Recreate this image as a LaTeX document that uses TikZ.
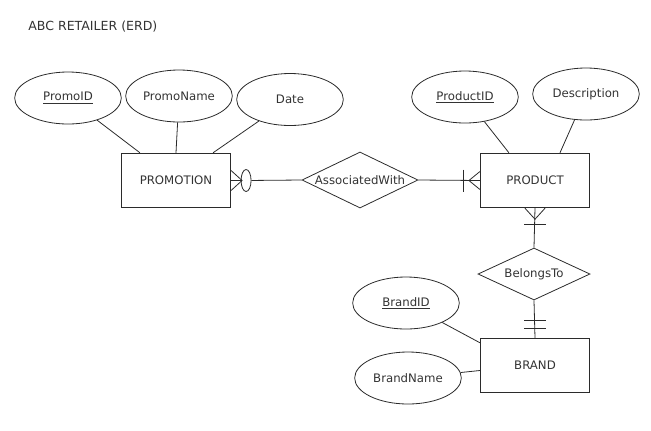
\documentclass[tikz,border=0pt]{standalone}
\usepackage{fontspec}
\setmainfont{DejaVu Sans}
\usepackage{tikz}
\usetikzlibrary{shapes.geometric, calc}
\definecolor{erdline}{HTML}{2B2B2B}
\definecolor{erdtext}{HTML}{333333}

\tikzset{
  erdfont/.style={font=\fontsize{8.8}{10}\selectfont, text=erdtext},
  entity/.style={draw=erdline, rectangle, minimum width=82pt, minimum height=41pt, erdfont},
  attr/.style={draw=erdline, ellipse, inner sep=0pt, minimum width=80pt, minimum height=39pt, erdfont},
  rel/.style={draw=erdline, diamond, inner sep=0pt, aspect=2.1, minimum width=87pt, minimum height=42pt, erdfont},
  optmark/.style={draw=erdline, ellipse, fill=white, inner sep=0pt, minimum width=7.5pt, minimum height=16.5pt},
  link/.style={draw=erdline}
}

\begin{document}
\begin{tikzpicture}[x=0.75pt, y=-0.75pt, line width=0.6pt]
    \useasboundingbox (0,0) rectangle (651,430);
    \node[erdfont, font=\fontsize{9.4}{11}\selectfont, anchor=west, inner sep=0pt] (title) at (28,27) {ABC RETAILER (ERD)};

    \node[entity] (promo) at (176,180.5) {PROMOTION};
    \node[entity] (product) at (535,180.5) {PRODUCT};
    \node[entity] (brand) at (535,365.5) {BRAND};

    \node[rel] (assoc) at (360,180) {AssociatedWith};
    \node[rel, minimum width=84pt, minimum height=39pt] (belongs) at (534,274) {BelongsTo};

    \node[attr] (promoid) at (68,98) {\underline{PromoID}};
    \node[attr] (promoname) at (179,96) {PromoName};
    \node[attr] (date) at (290,99.5) {Date};
    \node[attr] (productid) at (465,97) {\underline{ProductID}};
    \node[attr] (descr) at (586,94) {Description};
    \node[attr] (brandid) at (406,303) {\underline{BrandID}};
    \node[attr] (brandname) at (408,378) {BrandName};

    \draw[link] (promoid) -- ($(promo.north west)+(19,0)$);
    \draw[link] (promoname) -- (promo.north);
    \draw[link] (date) -- ($(promo.north east)+(-18,0)$);
    \draw[link] (productid) -- ($(product.north west)+(29,0)$);
    \draw[link] (descr) -- ($(product.north)+(25,0)$);
    \draw[link] (brandid) -- ($(brand.north west)+(0,5)$);
    \draw[link] (brandname) -- ($(brand.west)+(0,5)$);

    \node[optmark] (promoopt) at ($(promo.east)+(15,0)$) {};
    \draw[link] (promo.east) -- (promoopt);
    \draw[link] (promoopt) -- (assoc.west);
    \draw[link] ($(promo.east)+(0,-10)$) -- ($(promo.east)+(11,0)$) -- ($(promo.east)+(0,10)$);

    \draw[link] (assoc.east) -- (product.west);
    \draw[link] ($(product.west)+(0,-9)$) -- ($(product.west)+(-11,0)$) -- ($(product.west)+(0,9)$);
    \draw[link] ($(product.west)+(-17,-11)$) -- ($(product.west)+(-17,11)$);

    \draw[link] (product.south) -- (belongs.north);
    \draw[link] ($(product.south)+(-10,0)$) -- ($(product.south)+(0,11)$) -- ($(product.south)+(10,0)$);
    \draw[link] ($(product.south)+(-11,16)$) -- ($(product.south)+(11,16)$);

    \draw[link] (belongs.south) -- (brand.north);
    \draw[link] ($(brand.north)+(-11,-17)$) -- ($(brand.north)+(11,-17)$);
    \draw[link] ($(brand.north)+(-11,-9)$) -- ($(brand.north)+(11,-9)$);
\end{tikzpicture}
\end{document}
